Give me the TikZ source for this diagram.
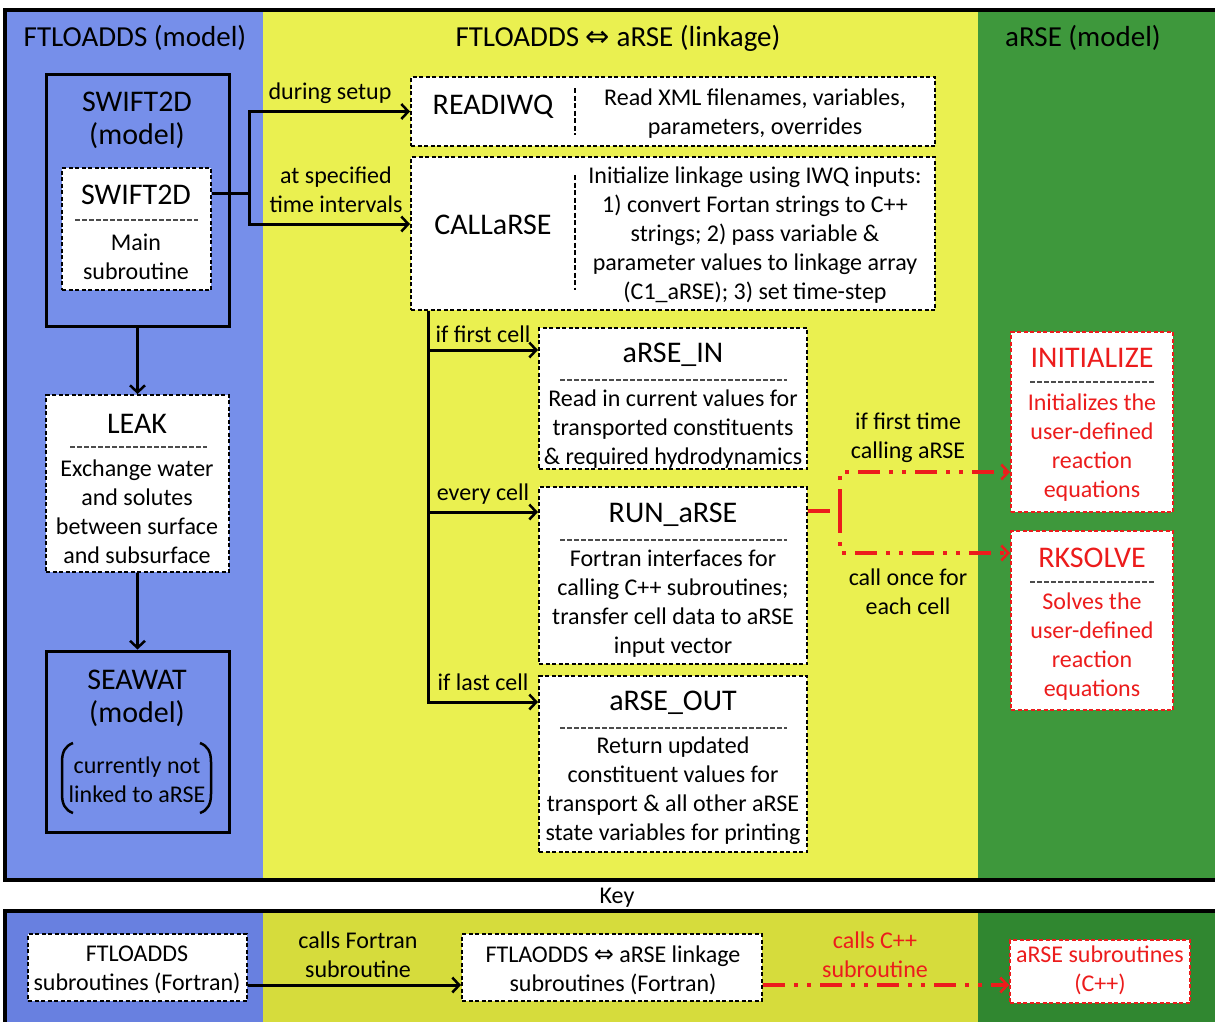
\documentclass[tikz,border=0pt]{standalone}
\usepackage{fontspec}
\setmainfont{Carlito}
\newfontfamily\symfont{DejaVu Sans}
\usetikzlibrary{arrows.meta}
\definecolor{cblue}{RGB}{118,143,234}
\definecolor{cyel}{RGB}{234,240,80}
\definecolor{cgreen}{RGB}{62,152,60}
\definecolor{kblue}{RGB}{104,128,224}
\definecolor{kyel}{RGB}{214,220,60}
\definecolor{kgreen}{RGB}{48,135,48}
\definecolor{cred}{RGB}{236,28,28}
\begin{document}
\begin{tikzpicture}[x=1pt,y=-1pt,
  hd/.style={font=\fontsize{29}{34}\selectfont, inner sep=0},
  ttl/.style={font=\fontsize{30}{34}\selectfont, inner sep=0},
  bd/.style={font=\fontsize{24}{29}\selectfont, align=center, inner sep=0},
  bbox/.style={draw=black, fill=white, line width=2pt, dash pattern=on 4pt off 2.5pt, inner sep=0},
  rbox/.style={draw=cred, fill=white, line width=2pt, dash pattern=on 4pt off 2.5pt, inner sep=0},
  sbox/.style={draw=black, fill=cblue, line width=3pt, inner sep=0},
  rule/.style={draw=black!70, line width=2.5pt, dash pattern=on 5pt off 2pt},
  divider/.style={draw=black, line width=2pt, dash pattern=on 5pt off 2.5pt},
  conn/.style={draw=black, line width=3pt, -{Straight Barb[length=7pt,width=15pt,line width=2.5pt]}},
  plain/.style={draw=black, line width=3pt},
  rconn/.style={draw=cred, line width=3.5pt, dash pattern=on 22pt off 9pt on 4pt off 9pt on 4pt off 9pt, -{Straight Barb[length=7pt,width=15pt,line width=2.5pt]}},
  rplain/.style={draw=cred, line width=3.5pt, dash pattern=on 22pt off 9pt on 4pt off 9pt on 4pt off 9pt},
]
\useasboundingbox (0,0) rectangle (1215,1021);
\fill[white] (0,0) rectangle (1215,1021);
% main panel
\fill[cblue] (5,10) rectangle (263,880);
\fill[cyel] (263,10) rectangle (978,880);
\fill[cgreen] (978,10) rectangle (1225,880);
\draw[line width=4pt] (5,10) rectangle (1225,880);
% key panel
\fill[kblue] (5,911) rectangle (263,1030);
\fill[kyel] (263,911) rectangle (978,1030);
\fill[kgreen] (978,911) rectangle (1225,1030);
\draw[line width=4pt] (5,911) rectangle (1225,1030);

% headers
\node[hd] (h1) at (135,38) {FTLOADDS (model)};
\node[hd] (h2) at (618,38) {FTLOADDS {\symfont ⇔} aRSE (linkage)};
\node[hd] (h3) at (1083,38) {aRSE (model)};

% SWIFT2D
\node[sbox, minimum width=183, minimum height=252] (swout) at (137.5,200) {};
\node[ttl] (swoutT) at (137,102) {SWIFT2D};
\node[ttl] (swoutM) at (137,136) {(model)};
\node[bbox, minimum width=149, minimum height=122] (swin) at (136.5,229) {};
\node[ttl] (swinT) at (136,195) {SWIFT2D};
\draw[rule] (75,220) -- (198,220);
\node[bd] (swinB) at (136,257) {Main\\subroutine};

% LEAK
\node[bbox, minimum width=183, minimum height=177] (leak) at (137.5,483.5) {};
\node[ttl] (leakT) at (137,424) {LEAK};
\draw[rule] (70,447) -- (207,447);
\node[bd] (leakB) at (137,512) {Exchange water\\and solutes\\between surface\\and subsurface};

% SEAWAT
\node[sbox, minimum width=183, minimum height=181] (seawat) at (137.5,741.5) {};
\node[ttl] (seawatT) at (137,680) {SEAWAT};
\node[ttl] (seawatM) at (137,714) {(model)};
\node[bd] (seawatB) at (137,780) {currently not\\linked to aRSE};
\draw[line width=2.5pt] (73,743) .. controls (65,746) and (62,752) .. (62,762) -- (62,794) .. controls (62,804) and (65,810) .. (73,813);
\draw[line width=2.5pt] (200,743) .. controls (208,746) and (211,752) .. (211,762) -- (211,794) .. controls (211,804) and (208,810) .. (200,813);

% READIWQ
\node[bbox, minimum width=524, minimum height=69] (readiwq) at (673,111.5) {};
\draw[divider] (575,88) -- (575,135);
\node[ttl] (readiwqT) at (493,107) {READIWQ};
\node[bd] (readiwqB) at (755,114) {Read XML filenames, variables,\\parameters, overrides};

% CALLaRSE
\node[bbox, minimum width=524, minimum height=153] (callarse) at (673,233.5) {};
\draw[divider] (575,175) -- (575,290);
\node[ttl] (callarseT) at (493,225) {CALLaRSE};
\node[bd] (callarseB) at (755,235) {Initialize linkage using IWQ inputs:\\1) convert Fortan strings to C++\\strings; 2) pass variable \&\\parameter values to linkage array\\(C1\_aRSE); 3) set time-step};

% aRSE_IN
\node[bbox, minimum width=268, minimum height=141] (arsein) at (673,398.5) {};
\node[ttl] (arseinT) at (673,355) {aRSE\_IN};
\draw[rule] (560,380) -- (787,380);
\node[bd] (arseinB) at (673,429) {Read in current values for\\transported constituents\\\& required hydrodynamics};

% RUN_aRSE
\node[bbox, minimum width=268, minimum height=177] (runarse) at (673,575.5) {};
\node[ttl] (runarseT) at (673,515) {RUN\_aRSE};
\draw[rule] (560,540) -- (787,540);
\node[bd] (runarseB) at (673,604) {Fortran interfaces for\\calling C++ subroutines;\\transfer cell data to aRSE\\input vector};

% aRSE_OUT
\node[bbox, minimum width=268, minimum height=176] (arseout) at (673,764) {};
\node[ttl] (arseoutT) at (673,703) {aRSE\_OUT};
\draw[rule] (560,728) -- (787,728);
\node[bd] (arseoutB) at (673,791) {Return updated\\constituent values for\\transport \& all other aRSE\\state variables for printing};

% INITIALIZE
\node[rbox, minimum width=162, minimum height=180] (init) at (1092,422) {};
\node[ttl, text=cred] (initT) at (1092,358) {INITIALIZE};
\draw[rule] (1030,382) -- (1155,382);
\node[bd, text=cred] (initB) at (1092,448) {Initializes the\\user-defined\\reaction\\equations};

% RKSOLVE
\node[rbox, minimum width=162, minimum height=179] (rks) at (1092,620.5) {};
\node[ttl, text=cred] (rksT) at (1092,558) {RKSOLVE};
\draw[rule] (1030,582) -- (1155,582);
\node[bd, text=cred] (rksB) at (1092,647) {Solves the\\user-defined\\reaction\\equations};

% connectors SWIFT2D -> linkage
\coordinate (sj) at (249,193);
\coordinate (ca) at (249,224);
\draw[plain] (swin.east |- sj) -- (sj);
\draw[conn] (sj) |- (readiwq.west);
\draw[conn] (sj) -- (ca) -- (callarse.west |- ca);
\node[bd] (lsetup) at (330,93) {during setup};
\node[bd] (ltime) at (336,190) {at specified\\time intervals};

% trunk from CALLaRSE
\coordinate (tr) at (428,310);
\coordinate (ya) at (0,350);
\coordinate (yb) at (0,512);
\coordinate (yc) at (0,702);
\draw[conn] (callarse.south -| tr) |- (arsein.west |- ya);
\draw[conn] (callarse.south -| tr) |- (runarse.west |- yb);
\draw[conn] (callarse.south -| tr) |- (arseout.west |- yc);
\node[bd] (lfirst) at (483,334) {if first cell};
\node[bd] (levery) at (483,494) {every cell};
\node[bd] (llast) at (483,682) {if last cell};

% SWIFT2D -> LEAK -> SEAWAT
\draw[conn] (swout.south) -- (leak.north);
\draw[conn] (leak.south) -- (seawat.north);

% red connectors
\coordinate (rs) at (840,511);
\coordinate (ru) at (840,472);
\coordinate (rd) at (840,553);
\draw[rplain] (runarse.east |- rs) -- (rs);
\draw[rconn] (rs) -- (ru) -- (init.west |- ru);
\draw[rconn] (rs) -- (rd) -- (rks.west |- rd);
\node[bd] (lft) at (908,438) {if first time\\calling aRSE};
\node[bd] (lonce) at (908,592) {call once for\\each cell};

% key
\node[bd] (key) at (617,898) {Key};
\node[bbox, minimum width=219, minimum height=67] (k1) at (137.5,967.5) {};
\node[bd] (k1T) at (137,970) {FTLOADDS\\subroutines (Fortran)};
\node[bbox, minimum width=300, minimum height=67] (k2) at (612,967.5) {};
\node[bd] (k2T) at (613,970) {FTLAODDS {\symfont ⇔} aRSE linkage\\subroutines (Fortran)};
\node[rbox, minimum width=180, minimum height=63] (k3) at (1100,971.5) {};
\node[bd, text=cred] (k3T) at (1100,970) {aRSE subroutines\\(C++)};
\coordinate (ky) at (0,985);
\draw[conn] (k1.east |- ky) -- (k2.west |- ky);
\draw[rconn] (k2.east |- ky) -- (k3.west |- ky);
\node[bd] (kl1) at (358,955) {calls Fortran\\subroutine};
\node[bd, text=cred] (kl2) at (875,955) {calls C++\\subroutine};
\end{tikzpicture}
\end{document}
